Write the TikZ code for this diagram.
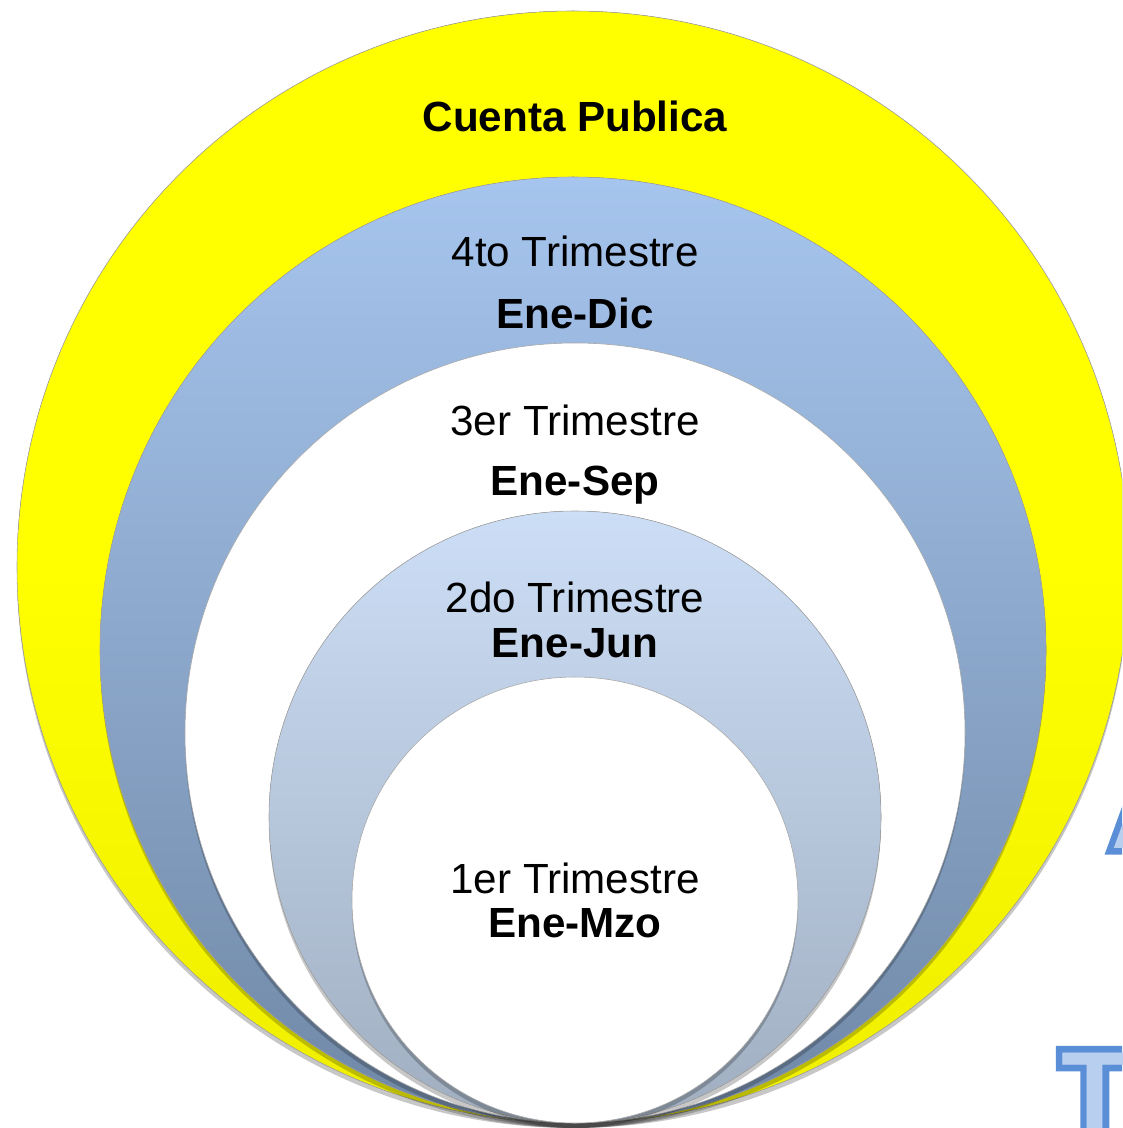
\documentclass[tikz,border=0pt]{standalone}
\usepackage{fontspec}
\setmainfont{Liberation Sans}
\newfontfamily\outlinefont[FakeBold=12]{Liberation Sans Bold}
\newfontfamily\letterfont{Liberation Sans Bold}
\definecolor{ringyellow}{HTML}{FFFF00}
\definecolor{ringyellowdark}{HTML}{EEEE00}
\definecolor{ringblue}{HTML}{A6C5EE}
\definecolor{ringbluedark}{HTML}{7088A6}
\definecolor{ringpale}{HTML}{CCDEF6}
\definecolor{ringpaledark}{HTML}{A0AEC0}
\definecolor{letterline}{HTML}{5A8ED6}
\definecolor{letterfill}{HTML}{B9CFEF}
\tikzset{
  ringshadow/.style={fill=black, opacity=0.22},
  ringedge/.style={draw=gray!70, line width=0.4pt},
  label/.style={anchor=base, font=\fontsize{30}{36}\selectfont},
  labelbold/.style={label, font=\fontsize{30}{36}\selectfont\bfseries},
}
\begin{document}
\begin{tikzpicture}[x=0.025cm, y=-0.025cm]
    \useasboundingbox (0,0) rectangle (1122,1128);
    \clip (0,0) rectangle (1122,1128);
    % letters of the text behind, cut at the edge
    \node[anchor=base west, inner sep=0pt, text=letterline] (lettera) at (1111,848) {\fontsize{78}{80}\outlinefont A};
    \node[anchor=base west, inner sep=0pt, text=letterfill] (letteraf) at (1111,848) {\fontsize{78}{80}\letterfont A};
    \node[anchor=base west, inner sep=0pt, text=letterline] (lettert) at (1061,1128) {\fontsize{78}{80}\outlinefont T};
    \node[anchor=base west, inner sep=0pt, text=letterfill] (lettertf) at (1061,1128) {\fontsize{78}{80}\letterfont T};
    % cuenta publica
    \fill[ringshadow] (573,572) circle(556);
    \filldraw[ringedge, top color=ringyellow, bottom color=ringyellowdark, middle color=ringyellow] (573,567) circle(556);
    % 4to trimestre
    \fill[ringshadow] (573,655) circle(473);
    \filldraw[ringedge, top color=ringblue, bottom color=ringbluedark] (573,650) circle(473);
    % 3er trimestre
    \fill[ringshadow] (575,738) circle(390);
    \filldraw[ringedge, fill=white] (575,733) circle(390);
    % 2do trimestre
    \fill[ringshadow] (575,822) circle(306);
    \filldraw[ringedge, top color=ringpale, bottom color=ringpaledark] (575,817) circle(306);
    % 1er trimestre
    \fill[ringshadow] (575,905) circle(223);
    \filldraw[ringedge, fill=white] (575,900) circle(223);
    \node[labelbold] (cuenta) at (575,132) {Cuenta Publica};
    \node[label] (cuarto) at (575,267) {4to Trimestre};
    \node[labelbold] (cuartoper) at (575,328) {Ene-Dic};
    \node[label] (tercero) at (575,435) {3er Trimestre};
    \node[labelbold] (terceroper) at (575,495) {Ene-Sep};
    \node[label] (segundo) at (575,612) {2do Trimestre};
    \node[labelbold] (segundoper) at (575,657) {Ene-Jun};
    \node[label] (primero) at (575,893) {1er Trimestre};
    \node[labelbold] (primeroper) at (575,937) {Ene-Mzo};
\end{tikzpicture}
\end{document}
